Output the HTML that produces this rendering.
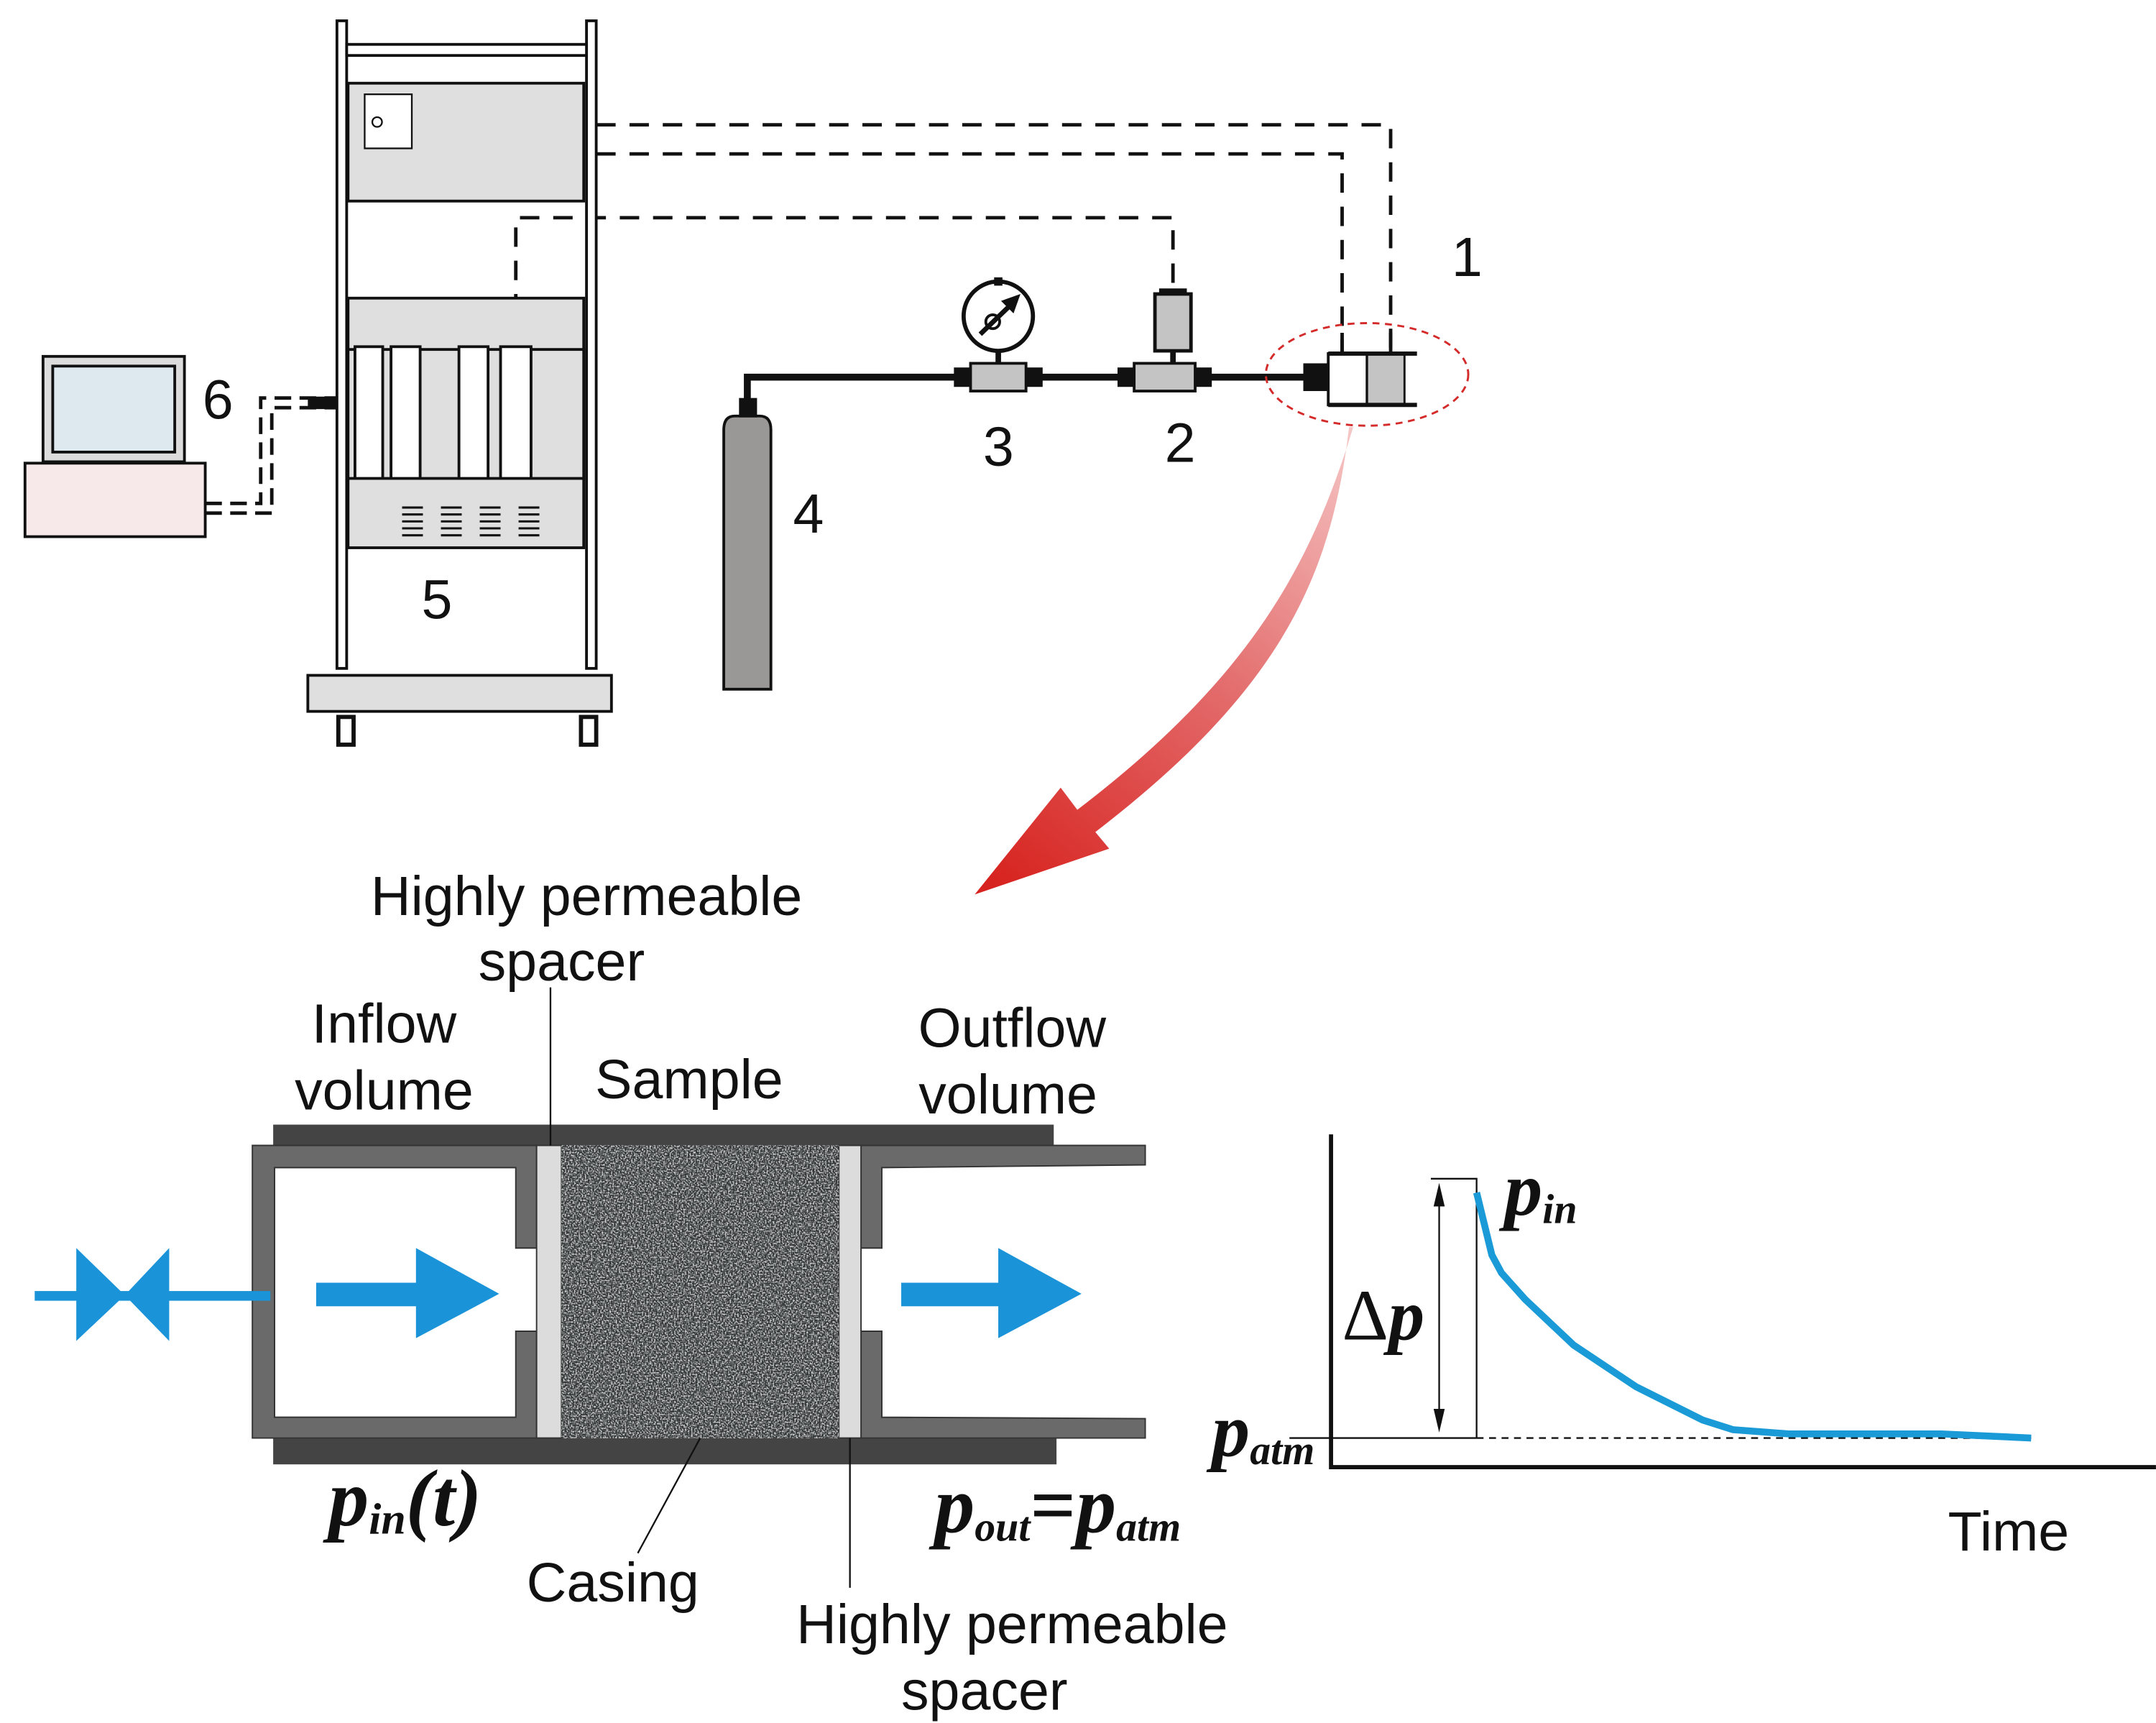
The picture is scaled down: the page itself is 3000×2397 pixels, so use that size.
<!DOCTYPE html>
<html><head><meta charset="utf-8">
<style>html,body{margin:0;padding:0;background:#fff}svg{display:block}</style>
</head><body>
<svg width="3000" height="2397" viewBox="0 0 1555 1242.5" xmlns="http://www.w3.org/2000/svg">
<defs>
<filter id="noise" x="0" y="0" width="100%" height="100%">
<feTurbulence type="fractalNoise" baseFrequency="0.9" numOctaves="2" seed="3" result="t"/>
<feColorMatrix type="matrix" values="0 0 0 0 0  0 0 0 0 0  0 0 0 0 0  3 0 0 0 -1.2" result="a"/>
<feFlood flood-color="#d8d8d8"/>
<feComposite in2="a" operator="in"/>
</filter>
<linearGradient id="rg" x1="975" y1="310" x2="720" y2="640" gradientUnits="userSpaceOnUse">
<stop offset="0" stop-color="#f6c6c6"/><stop offset="0.5" stop-color="#e36a6a"/><stop offset="1" stop-color="#d7231f"/>
</linearGradient>
</defs>
<g font-family="Liberation Sans, sans-serif" fill="#111">

<!-- dashed signal lines -->
<g stroke="#111" stroke-width="2.5" fill="none" stroke-dasharray="14,10">
<path d="M430 90 H1003 V262"/>
<path d="M430 111 H968 V262"/>
<path d="M372 250 V157 H846 V208"/>
</g>

<!-- rack -->
<rect x="243" y="15" width="7" height="467" fill="#fff" stroke="#111" stroke-width="2"/>
<rect x="423" y="15" width="7" height="467" fill="#fff" stroke="#111" stroke-width="2"/>
<rect x="250" y="32" width="173" height="8" fill="#fff" stroke="#111" stroke-width="2"/>
<rect x="251" y="60" width="170" height="85" fill="#dfdfdf" stroke="#111" stroke-width="2"/>
<rect x="263" y="68" width="34" height="39" fill="#fff" stroke="#111" stroke-width="1.2"/>
<circle cx="272" cy="88" r="3.5" fill="none" stroke="#111" stroke-width="1.2"/>
<rect x="251" y="215" width="170" height="180" fill="#dfdfdf" stroke="#111" stroke-width="2"/>
<rect x="251" y="252" width="170" height="93" fill="#dfdfdf" stroke="#111" stroke-width="2"/>
<g fill="#fff" stroke="#111" stroke-width="2">
<rect x="256" y="250" width="20" height="95"/><rect x="282" y="250" width="21" height="95"/>
<rect x="331" y="250" width="21" height="95"/><rect x="361" y="250" width="22" height="95"/>
</g>
<g stroke="#111" stroke-width="1.6">
<path d="M290 366h15M290 371h15M290 376h15M290 381h15M290 386h15"/>
<path d="M318 366h15M318 371h15M318 376h15M318 381h15M318 386h15"/>
<path d="M346 366h15M346 371h15M346 376h15M346 381h15M346 386h15"/>
<path d="M374 366h15M374 371h15M374 376h15M374 381h15M374 386h15"/>
</g>
<rect x="222" y="487" width="219" height="26" fill="#dfdfdf" stroke="#111" stroke-width="2"/>
<rect x="244" y="517" width="11" height="20" fill="#fff" stroke="#111" stroke-width="3"/>
<rect x="419" y="517" width="11" height="20" fill="#fff" stroke="#111" stroke-width="3"/>
<text x="304" y="446" font-size="40">5</text>

<!-- computer -->
<rect x="31" y="257" width="102" height="76" fill="#dcdcdc" stroke="#111" stroke-width="2"/>
<rect x="38" y="264" width="88" height="62" fill="#dde8ef" stroke="#111" stroke-width="2"/>
<rect x="18" y="334" width="130" height="53" fill="#f7e8ea" stroke="#111" stroke-width="2"/>
<g fill="none" stroke="#111" stroke-width="2.5">
<path d="M148 363 H188 V287 H243" stroke-dasharray="12,6"/>
<path d="M148 370 H196 V294 H243" stroke-dasharray="12,6"/>
</g>
<rect x="222" y="286" width="21" height="9" fill="#111"/>
<text x="146" y="302" font-size="40">6</text>

<!-- pipe -->
<path d="M539 290 V272 H940" fill="none" stroke="#111" stroke-width="5"/>
<!-- bottle -->
<path d="M522 497 V310 Q522 300 530 300 H548 Q556 300 556 310 V497 Z" fill="#999896" stroke="#111" stroke-width="2"/>
<rect x="533" y="287" width="13" height="14" fill="#111"/>
<text x="572" y="384" font-size="40">4</text>
<!-- gauge 3 -->
<circle cx="720" cy="228" r="25" fill="#fff" stroke="#111" stroke-width="3"/>
<rect x="717" y="200" width="6" height="6" fill="#111"/>
<path d="M707 241 L733 216" stroke="#111" stroke-width="3.5"/>
<path d="M736 212 L722 217 L731 226 Z" fill="#111"/>
<circle cx="716" cy="232" r="5" fill="none" stroke="#111" stroke-width="2"/>
<rect x="718" y="253" width="4" height="10" fill="#111"/>
<rect x="688" y="265" width="14" height="14" fill="#111"/>
<rect x="738" y="265" width="14" height="14" fill="#111"/>
<rect x="700" y="262" width="40" height="20" fill="#c4c4c4" stroke="#111" stroke-width="2"/>
<text x="709" y="336" font-size="40">3</text>
<!-- valve 2 -->
<rect x="833" y="212" width="26" height="41" fill="#c4c4c4" stroke="#111" stroke-width="2.5"/>
<rect x="836" y="208" width="20" height="5" fill="#111"/>
<rect x="844" y="253" width="4" height="10" fill="#111"/>
<rect x="806" y="265" width="14" height="14" fill="#111"/>
<rect x="860" y="265" width="14" height="14" fill="#111"/>
<rect x="818" y="262" width="44" height="20" fill="#c4c4c4" stroke="#111" stroke-width="2"/>
<text x="840" y="333" font-size="40">2</text>
<!-- holder 1 -->
<path d="M968 240 V255 M1003 240 V255" stroke="#111" stroke-width="2.5"/>
<rect x="940" y="262" width="18" height="20" fill="#111"/>
<rect x="958" y="255" width="28" height="37" fill="#fff" stroke="#111" stroke-width="2"/>
<rect x="986" y="255" width="27" height="37" fill="#c4c4c4" stroke="#111" stroke-width="1.5"/>
<path d="M958 255 H1022 M958 292 H1022" stroke="#111" stroke-width="3"/>
<ellipse cx="986" cy="270" rx="73" ry="37" fill="none" stroke="#d42a2a" stroke-width="1.5" stroke-dasharray="5,4"/>
<text x="1047" y="199" font-size="40">1</text>

<!-- red arrow -->
<path d="M973 308 C 960 420 920 500 790 600 L800 612 L703 645 L765 568 L777 584 C 900 490 945 410 976 308 Z" fill="url(#rg)"/>

<!-- cell -->
<rect x="197" y="811" width="563" height="16" fill="#444"/>
<rect x="197" y="1037" width="565" height="19" fill="#444"/>
<path d="M182 826 H387 V900 H372 V842 H198 V1022 H372 V960 H387 V1037 H182 Z" fill="#6a6a6a" stroke="#333" stroke-width="1"/>
<path d="M621 826 H826 V840 L636 842 V900 H621 Z" fill="#6a6a6a" stroke="#333" stroke-width="1"/>
<path d="M621 1037 H826 V1023 L636 1022 V960 H621 Z" fill="#6a6a6a" stroke="#333" stroke-width="1"/>
<rect x="387" y="826" width="18" height="211" fill="#dcdcdc" stroke="#333" stroke-width="1"/>
<rect x="605" y="826" width="16" height="211" fill="#dcdcdc" stroke="#333" stroke-width="1"/>
<rect x="405" y="826" width="200" height="211" fill="#2e3232"/>
<rect x="405" y="826" width="200" height="211" filter="url(#noise)"/>
<!-- blue -->
<g fill="#1a93d8">
<rect x="25" y="931" width="170" height="7"/>
<path d="M55 900 L90 934 L55 967 Z M122 900 L90 934 L122 967 Z"/>
<path d="M228 925 H300 V900 L360 933 L300 965 V942 H228 Z"/>
<path d="M650 925 H720 V900 L780 933 L720 965 V942 H650 Z"/>
</g>
<!-- leaders -->
<g stroke="#111" stroke-width="1.2">
<path d="M397 712 V826"/><path d="M460 1120 L505 1037"/><path d="M613 1037 V1145"/>
</g>
<g font-size="40" text-anchor="middle">
<text x="423" y="660">Highly permeable</text><text x="405" y="707">spacer</text>
<text x="277" y="752">Inflow</text><text x="277" y="800">volume</text>
<text x="497" y="792">Sample</text>
<text x="730" y="755">Outflow</text><text x="727" y="803">volume</text>
<text x="442" y="1155">Casing</text>
<text x="730" y="1185">Highly permeable</text><text x="710" y="1233">spacer</text>
</g>
<g font-family="Liberation Serif, serif" font-style="italic" font-weight="bold">
<text x="237" y="1100" font-size="58">p<tspan font-size="32" dy="6">in</tspan><tspan dy="-6">(t)</tspan></text>
<text x="674" y="1105" font-size="58">p<tspan font-size="30" dy="6">out</tspan><tspan dy="-6" font-style="normal">=</tspan>p<tspan font-size="30" dy="6">atm</tspan></text>
<text x="1085" y="876" font-size="55">p<tspan font-size="30" dy="6">in</tspan></text>
<text x="874" y="1050" font-size="55">p<tspan font-size="30" dy="6">atm</tspan></text>
<text x="968" y="966" font-size="52"><tspan font-style="normal" font-weight="normal">Δ</tspan>p</text>
</g>

<!-- graph -->
<path d="M960 818 V1058 H1555" fill="none" stroke="#111" stroke-width="3"/>
<path d="M930 1037 H1065 M1032 850 H1065 V1037" fill="none" stroke="#111" stroke-width="1.2"/>
<path d="M1065 1037 H1465" stroke="#111" stroke-width="1.2" stroke-dasharray="5,4"/>
<path d="M1038 860 V1028" stroke="#111" stroke-width="1.2"/>
<path d="M1038 853 L1034 870 L1042 870 Z M1038 1033 L1034 1016 L1042 1016 Z" fill="#111"/>
<path d="M1065 860 L1076 905 L1083 918 L1100 937 L1135 970 L1180 1000 L1228 1024 L1250 1031 L1290 1034 L1400 1034 L1465 1037" fill="none" stroke="#1a9ad6" stroke-width="5"/>
<text x="1405" y="1118" font-size="40">Time</text>
</g>
</svg>
</body></html>
